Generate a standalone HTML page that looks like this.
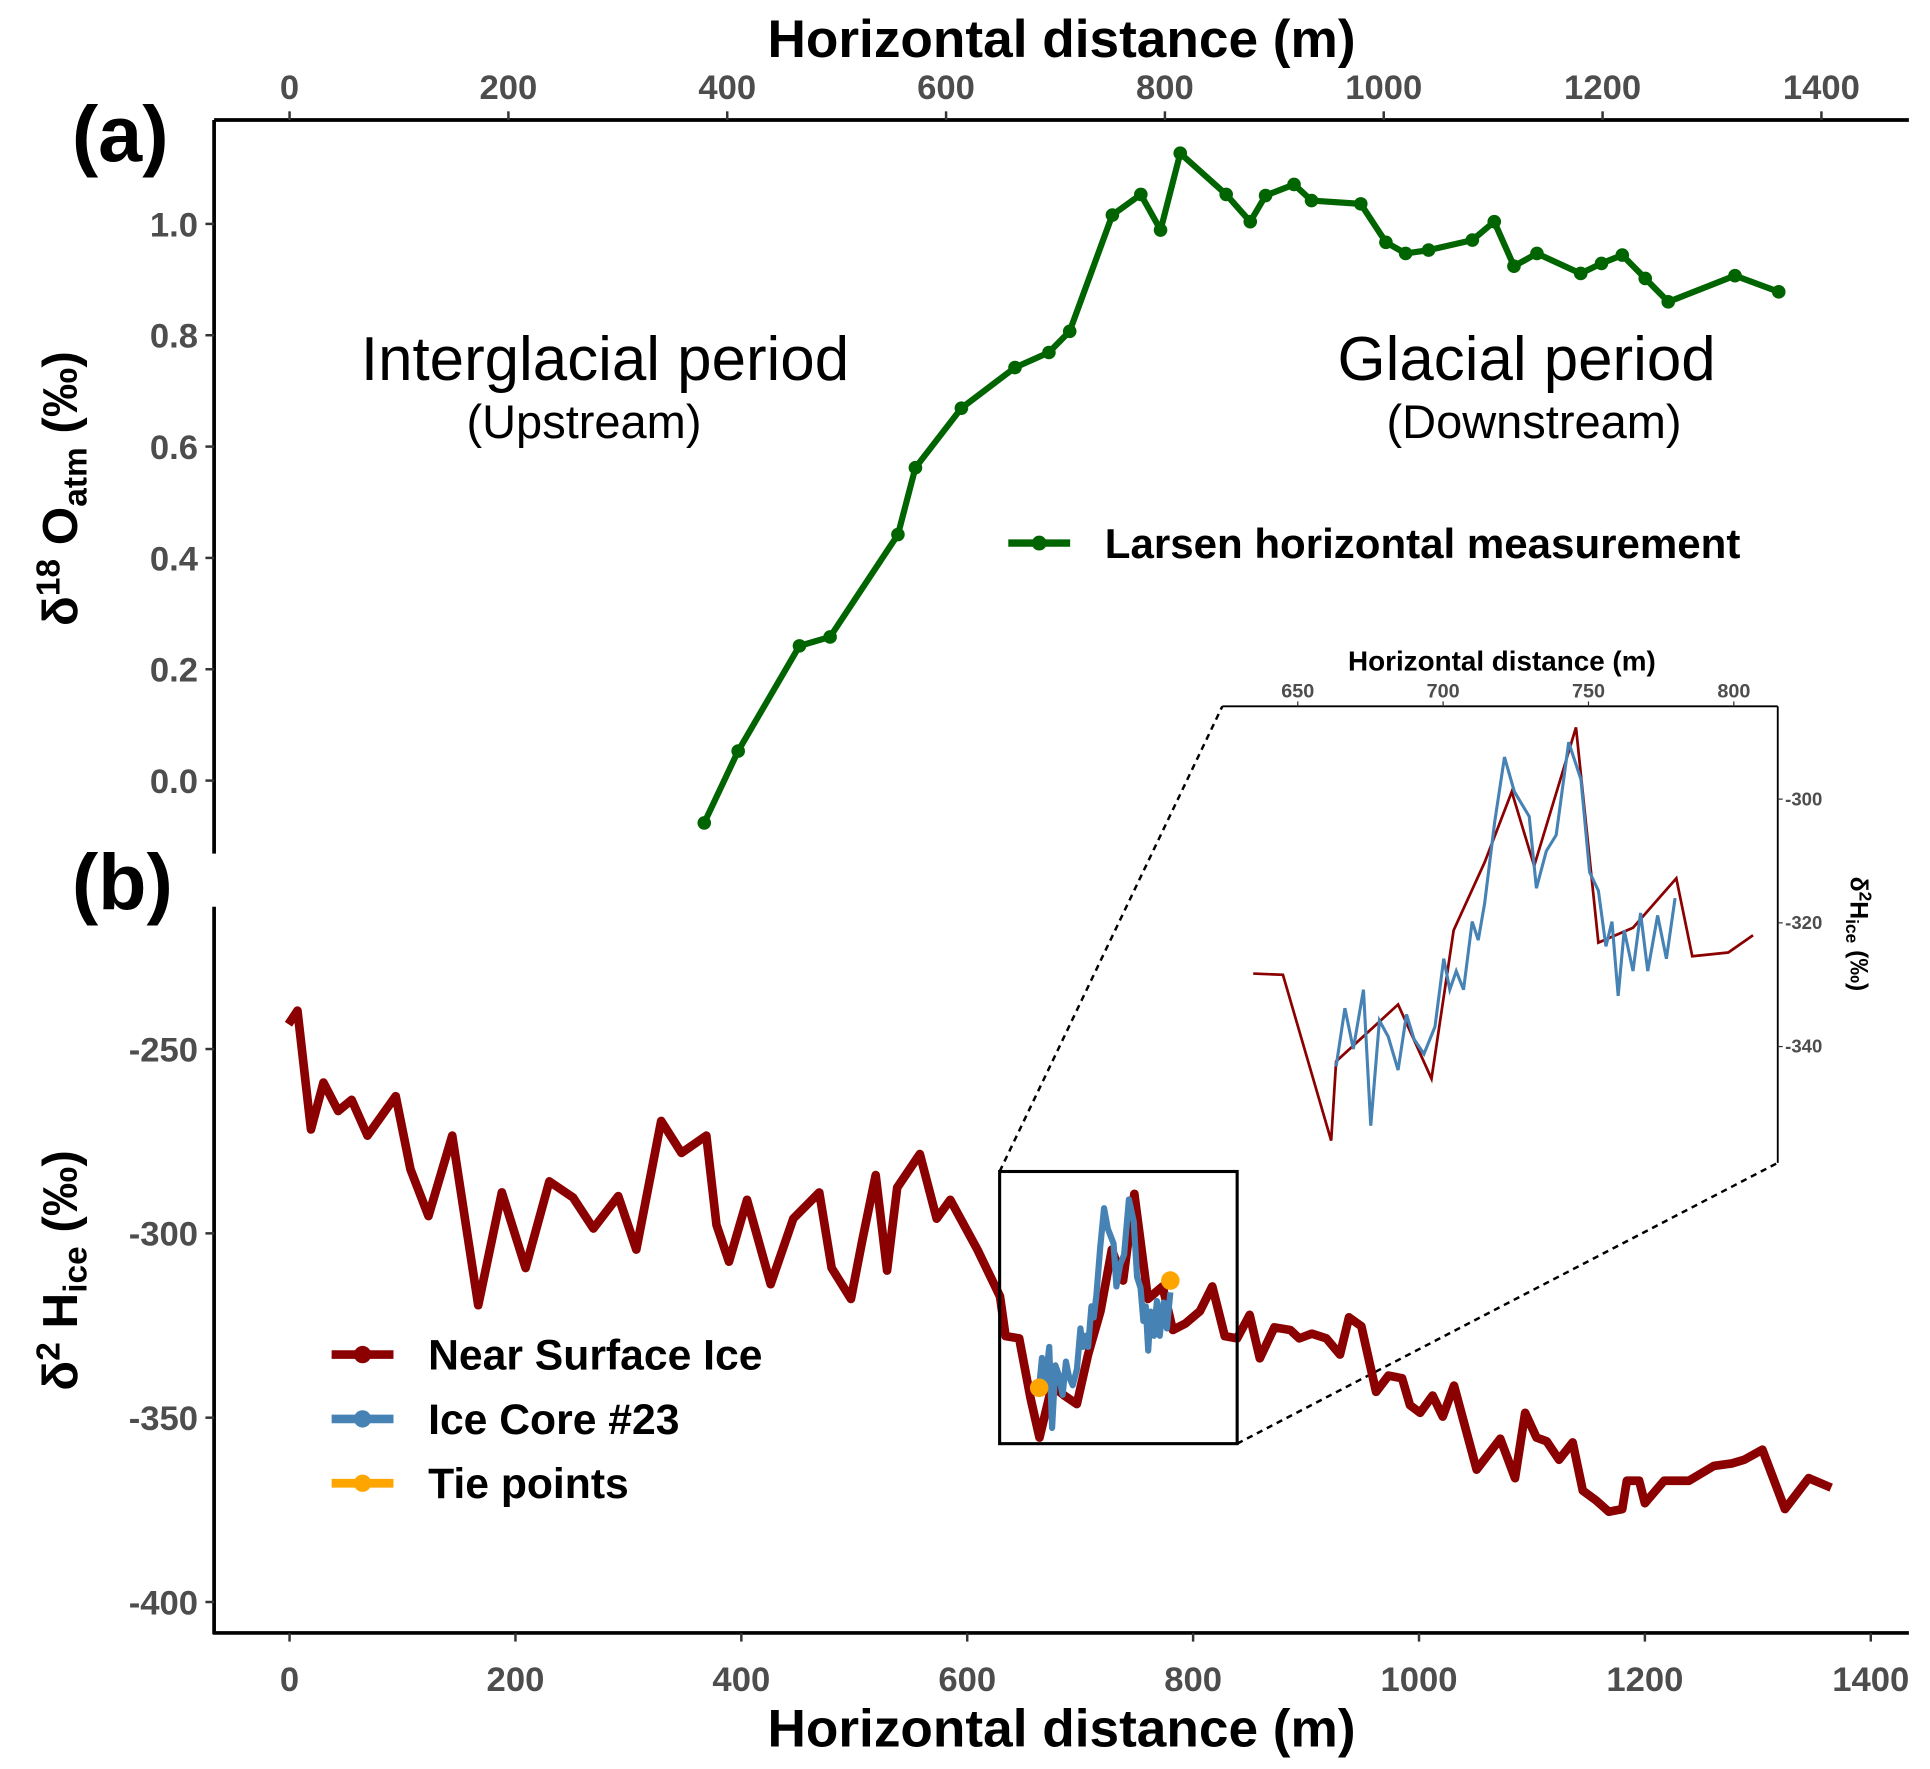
<!DOCTYPE html>
<html><head><meta charset="utf-8"><style>
html,body{margin:0;padding:0;background:#fff}
svg{display:block}
text{font-family:"Liberation Sans",sans-serif}
</style></head><body>
<svg id="chart" width="1930" height="1769" viewBox="0 0 1560 1430" xmlns="http://www.w3.org/2000/svg"></svg>
<script>
// Panel a data
const larsenX=[379,410,466,494,556,572,614,663,694,713,752,778,796,814,856,878,892,918,934,979,1002,1020,1041,1081,1101,1119,1140,1180,1199,1218,1239,1260,1321,1361];
const larsenY=[-0.076,0.053,0.242,0.258,0.442,0.562,0.669,0.742,0.769,0.807,1.016,1.053,0.989,1.127,1.053,1.004,1.051,1.071,1.042,1.036,0.967,0.947,0.953,0.971,1.004,0.924,0.947,0.911,0.929,0.944,0.902,0.860,0.907,0.878];
const aTopTicks=[0,200,400,600,800,1000,1200,1400];
const aYTicks=[0.0,0.2,0.4,0.6,0.8,1.0];
// Panel b data
const nsiX=[-1,7,19,30,43,55,69,94,107,123,144,167,188,209,230,251,269,291,307,329,347,369,378,389,405,426,446,469,480,497,507,519,529,538,558,573,585,609,629,634,646,656,664,675,686,697,707,718,728,738,748,760,773,782,793,806,817,828,839,850,859,872,886,894,905,918,930,938,949,962,973,985,992,1001,1012,1021,1031,1051,1072,1085,1094,1104,1113,1124,1136,1145,1157,1168,1180,1184,1195,1200,1217,1239,1261,1277,1288,1304,1324,1345,1365];
const nsiY=[-243.3,-239.6,-271.8,-259.1,-266.8,-263.8,-273.5,-262.8,-282.6,-295.3,-273.5,-319.5,-288.9,-309.4,-285.9,-290.3,-298.7,-289.9,-304.4,-269.5,-278.2,-273.5,-297.7,-307.7,-290.9,-313.8,-296.0,-288.9,-309.4,-317.8,-302.0,-284.2,-310.1,-287.6,-278.5,-296.0,-290.9,-304.4,-317.1,-327.9,-328.5,-344.6,-355.4,-341.3,-344.0,-346.3,-332.9,-321.1,-304.4,-312.8,-289.3,-317.8,-314.4,-326.2,-324.5,-321.1,-314.4,-327.9,-328.5,-322.1,-333.9,-325.5,-326.2,-328.5,-327.2,-328.5,-332.9,-322.8,-325.2,-343.0,-338.6,-339.3,-346.6,-348.7,-344.0,-349.7,-341.3,-364.1,-355.7,-366.4,-348.7,-355.4,-356.4,-361.4,-356.7,-369.8,-372.5,-375.5,-374.8,-367.1,-367.1,-373.2,-367.1,-367.1,-363.1,-362.4,-361.4,-358.7,-374.8,-366.4,-369.0];
const coreX=[663.2,666.2,669.1,672.6,675.1,678.1,681.1,684.5,687.4,690.0,693.4,697.2,700.2,702.3,704.5,707.0,710.0,712.1,714.3,717.7,721.1,724.5,729.6,732.1,735.5,738.9,743.2,747.4,750.4,753.4,756.0,758.1,760.2,762.3,765.3,767.9,770.4,773.8,776.8,779.8];
const coreY=[-343.2,-333.8,-340.4,-330.8,-352.8,-335.8,-338.4,-343.8,-334.8,-338.8,-341.2,-336.8,-325.8,-330.8,-327.8,-330.8,-319.8,-322.8,-316.8,-303.8,-293.2,-298.8,-302.8,-314.4,-308.4,-305.8,-290.8,-296.8,-311.8,-314.8,-323.8,-319.8,-331.8,-321.2,-327.8,-318.4,-327.8,-318.8,-325.8,-316.0];
const insetNsiX=[634.7,644.9,661.5,663.2,684.5,696.0,703.6,714.3,723.6,731.3,740.6,745.7,753.4,765.3,780.2,785.7,798.1,806.6];
const insetNsiY=[-328.2,-328.4,-355.2,-342.4,-333.2,-345.2,-321.2,-310.2,-298.8,-310.8,-296.4,-288.4,-323.2,-320.8,-312.8,-325.4,-324.8,-322.0];
const tieX=[663.7,779.8];
const tieY=[-341.9,-312.8];
const bXTicks=[0,200,400,600,800,1000,1200,1400];
const bYTicks=[-250,-300,-350,-400];
const insetXTicks=[650,700,750,800];
const insetYTicks=[-300,-320,-340];

const NS="http://www.w3.org/2000/svg";
const svg=document.getElementById('chart');
function el(tag,attrs,parent){const e=document.createElementNS(NS,tag);for(const k in attrs)e.setAttribute(k,attrs[k]);(parent||svg).appendChild(e);return e;}
function txt(s,attrs,parent){const e=el('text',attrs,parent);e.textContent=s;return e;}
const axA=v=>234+v*0.8845, ayA=v=>631-v*450;
const axB=v=>234+v*0.913, ayB=v=>848-(v+250)*2.98;
const axI=v=>1049+(v-650)*2.35, ayI=v=>646-(v+300)*5;
function path(xs,ys,fx,fy){return xs.map((x,i)=>(i?'L':'M')+fx(x).toFixed(1)+','+fy(ys[i]).toFixed(1)).join('');}

let t;
t=txt('(a)',{x:58,y:130,'font-size':64,'font-weight':'bold'});

t=txt('(b)',{x:58,y:735,'font-size':64,'font-weight':'bold'});


let g=el('g',{});
el('line',{x1:173,y1:97,x2:1543,y2:97,stroke:'#000','stroke-width':3},g);
el('line',{x1:173,y1:97,x2:173,y2:690,stroke:'#000','stroke-width':3},g);
aTopTicks.forEach(v=>{el('line',{x1:axA(v),y1:90,x2:axA(v),y2:97,stroke:'#333','stroke-width':2},g);
 const l=txt(String(v),{x:axA(v),y:80,'text-anchor':'middle','font-size':28,'font-weight':'bold',fill:'#4d4d4d'},g);
 });
aYTicks.forEach(v=>{el('line',{x1:166,y1:ayA(v),x2:173,y2:ayA(v),stroke:'#333','stroke-width':2},g);
 const l=txt(v.toFixed(1),{x:160,y:ayA(v)+10,'text-anchor':'end','font-size':28,'font-weight':'bold',fill:'#4d4d4d'},g);
 });
t=txt('Horizontal distance (m)',{x:858,y:46,'text-anchor':'middle','font-size':43,'font-weight':'bold'});

t=el('text',{transform:'translate(62,395) rotate(-90)','text-anchor':'middle','font-size':40,'font-weight':'bold'});
t.innerHTML='δ<tspan font-size="27" dy="-14">18</tspan><tspan dy="14"> O</tspan><tspan font-size="27" dy="8">atm</tspan><tspan dy="-8"> (‰)</tspan>';


t=txt('Interglacial period',{x:489,y:307,'text-anchor':'middle','font-size':50});

t=txt('(Upstream)',{x:472,y:354,'text-anchor':'middle','font-size':38});

t=txt('Glacial period',{x:1234,y:307,'text-anchor':'middle','font-size':50});

t=txt('(Downstream)',{x:1240,y:354,'text-anchor':'middle','font-size':38});


let p=el('path',{d:path(larsenX,larsenY,axA,ayA),fill:'none',stroke:'#006400','stroke-width':5,'stroke-linejoin':'round'});

larsenX.forEach((x,i)=>{const c=el('circle',{cx:axA(x),cy:ayA(larsenY[i]),r:5.5,fill:'#006400'});
 });
g=el('g',{});
el('line',{x1:815,y1:439,x2:865,y2:439,stroke:'#006400','stroke-width':6},g);
el('circle',{cx:840,cy:439,r:6,fill:'#006400'},g);
txt('Larsen horizontal measurement',{x:893,y:451,'font-size':34,'font-weight':'bold'},g);

g=el('g',{});
el('line',{x1:173,y1:733,x2:173,y2:1321,stroke:'#000','stroke-width':3},g);
el('line',{x1:172,y1:1320,x2:1543,y2:1320,stroke:'#000','stroke-width':3},g);
bXTicks.forEach(v=>{el('line',{x1:axB(v),y1:1320,x2:axB(v),y2:1327,stroke:'#333','stroke-width':2},g);
 const l=txt(String(v),{x:axB(v),y:1367,'text-anchor':'middle','font-size':28,'font-weight':'bold',fill:'#4d4d4d'},g);
 });
bYTicks.forEach(v=>{el('line',{x1:166,y1:ayB(v),x2:173,y2:ayB(v),stroke:'#333','stroke-width':2},g);
 const l=txt(String(v),{x:160,y:ayB(v)+10,'text-anchor':'end','font-size':28,'font-weight':'bold',fill:'#4d4d4d'},g);
 });
t=txt('Horizontal distance (m)',{x:858,y:1412,'text-anchor':'middle','font-size':43,'font-weight':'bold'});

t=el('text',{transform:'translate(62,1027) rotate(-90)','text-anchor':'middle','font-size':40,'font-weight':'bold'});
t.innerHTML='δ<tspan font-size="27" dy="-14">2</tspan><tspan dy="14"> H</tspan><tspan font-size="27" dy="8">ice</tspan><tspan dy="-8"> (‰)</tspan>';


el('line',{x1:808,y1:947,x2:988,y2:571,stroke:'#000','stroke-width':2,'stroke-dasharray':'5,4'});
el('line',{x1:1000,y1:1167,x2:1437,y2:940,stroke:'#000','stroke-width':2,'stroke-dasharray':'5,4'});

p=el('path',{d:path(nsiX,nsiY,axB,ayB),fill:'none',stroke:'#8b0000','stroke-width':7,'stroke-linejoin':'round'});

p=el('path',{d:path(coreX,coreY,axB,ayB),fill:'none',stroke:'#4682b4','stroke-width':5,'stroke-linejoin':'round'});

tieX.forEach((x,i)=>{const c=el('circle',{cx:axB(x),cy:ayB(tieY[i]),r:7.5,fill:'#ffa500'});
 });
t=el('rect',{x:808,y:947,width:192,height:220,fill:'none',stroke:'#000','stroke-width':2.5});


const leg=[['Near Surface Ice','#8b0000',1095],['Ice Core #23','#4682b4',1147],['Tie points','#ffa500',1199]];
leg.forEach(l=>{const gg=el('g',{});
 el('line',{x1:268,y1:l[2],x2:318,y2:l[2],stroke:l[1],'stroke-width':7},gg);
 el('circle',{cx:293,cy:l[2],r:7,fill:l[1]},gg);
 txt(l[0],{x:346,y:l[2]+12,'font-size':34.5,'font-weight':'bold'},gg);});

g=el('g',{});
el('line',{x1:988,y1:571,x2:1437,y2:571,stroke:'#000','stroke-width':1.5},g);
el('line',{x1:1437,y1:571,x2:1437,y2:940,stroke:'#000','stroke-width':1.5},g);
insetXTicks.forEach(v=>{el('line',{x1:axI(v),y1:567,x2:axI(v),y2:571,stroke:'#333'},g);
 const l=txt(String(v),{x:axI(v),y:564,'text-anchor':'middle','font-size':16,'font-weight':'bold',fill:'#4d4d4d'},g);
 });
insetYTicks.forEach(v=>{el('line',{x1:1437,y1:ayI(v),x2:1441,y2:ayI(v),stroke:'#333'},g);
 const l=txt(String(v),{x:1443,y:ayI(v)+5,'font-size':15,'font-weight':'bold',fill:'#4d4d4d'},g);
 });
t=txt('Horizontal distance (m)',{x:1214,y:542,'text-anchor':'middle','font-size':22.5,'font-weight':'bold'});

t=el('text',{transform:'translate(1496,755) rotate(90)','text-anchor':'middle','font-size':20,'font-weight':'bold'});
t.innerHTML='δ<tspan font-size="14" dy="-7">2</tspan><tspan dy="7">H</tspan><tspan font-size="14" dy="4">ice</tspan><tspan dy="-4"> (‰)</tspan>';

p=el('path',{d:path(insetNsiX,insetNsiY,axI,ayI),fill:'none',stroke:'#8b0000','stroke-width':2.2});

p=el('path',{d:path(coreX,coreY,axI,ayI),fill:'none',stroke:'#4682b4','stroke-width':2.5});

</script>
</body></html>
